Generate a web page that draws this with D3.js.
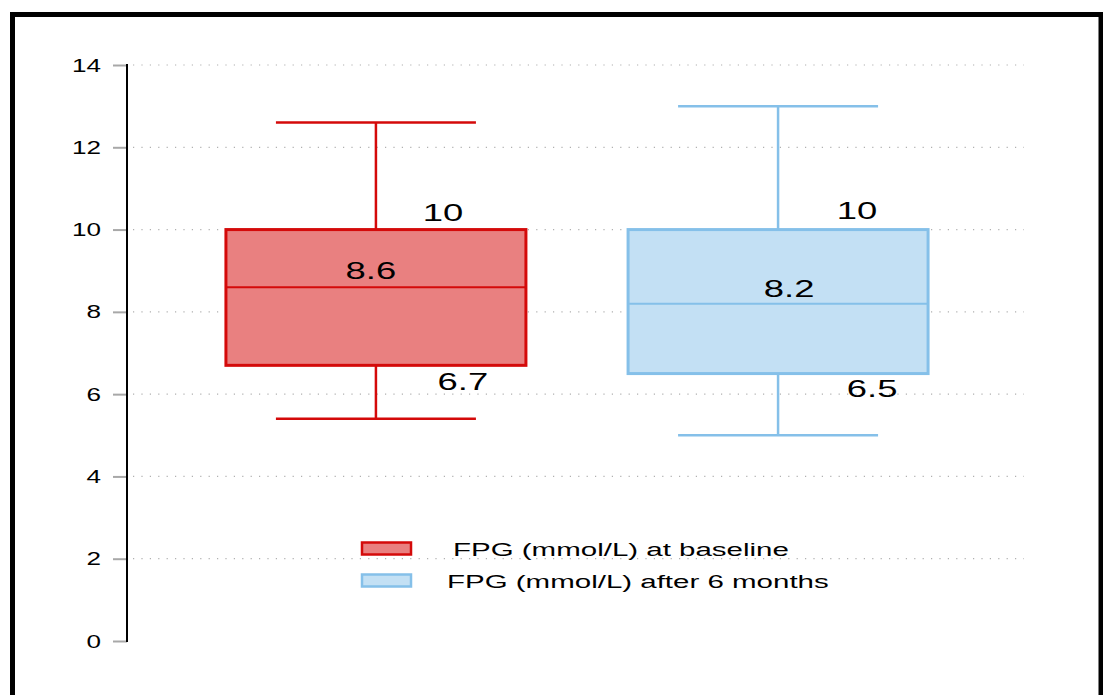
<!DOCTYPE html>
<html>
<head>
<meta charset="utf-8">
<script src="https://cdn.jsdelivr.net/npm/d3@7"></script>
<style>
  html, body { margin: 0; padding: 0; background: #fff; }
  svg { display: block; font-family: "Liberation Sans", Arial, sans-serif; }
</style>
</head>
<body>
<svg id="chart" width="1103" height="695"></svg>
<script>
// Box plot summaries for fasting plasma glucose
const groups = ["FPG (mmol/L) at baseline", "FPG (mmol/L) after 6 months"];
const whiskerLow = [5.4, 5.0];
const q1 = [6.7, 6.5];
const median = [8.6, 8.2];
const q3 = [10, 10];
const whiskerHigh = [12.6, 13.0];
const yTicks = [0, 2, 4, 6, 8, 10, 12, 14];

const strokeColors = ["#d40a0a", "#85c0e9"];
const fillColors = ["#e98080", "#c3e0f4"];

const svg = d3.select("#chart");

// outer frame
svg.append("path")
  .attr("d", "M12.5,700 V14.5 H1101 V700")
  .attr("fill", "none").attr("stroke", "#000").attr("stroke-width", 5);

const y = d3.scaleLinear().domain([0, 14]).range([641, 65]);
const x = d3.scaleBand().domain(groups).range([127, 1027]).paddingInner(0.254).paddingOuter(0.246);

// text in this figure is drawn horizontally widened
function wideText(g, txt, tx, ty, size, anchor, stretch) {
  return g.append("text").text(txt)
    .attr("transform", `translate(${tx},${ty}) scale(${stretch},1)`)
    .attr("text-anchor", anchor).attr("font-size", size).attr("fill", "#000");
}

// dotted gridlines
svg.append("g").selectAll("line").data(yTicks.filter(d => d > 0)).join("line")
  .attr("x1", 133).attr("x2", 1024)
  .attr("y1", d => y(d)).attr("y2", d => y(d))
  .attr("stroke", "#b0b0b0").attr("stroke-width", 1.2)
  .attr("stroke-dasharray", "1.2,7.2");

// y axis: tick marks from d3, labels widened
const axis = d3.axisLeft(y).tickValues(yTicks).tickSize(14).tickFormat("");
const ag = svg.append("g").attr("transform", "translate(127,0)").call(axis);
ag.select(".domain").remove();
ag.selectAll(".tick line").attr("stroke", "#a8a8a8").attr("stroke-width", 2);
const tl = svg.append("g");
yTicks.forEach(t => {
  wideText(tl, d3.format("d")(t), 101, y(t) + 6.5, 18, "end", 1.45);
});
svg.append("line").attr("x1", 127).attr("x2", 127).attr("y1", y(14) - 1).attr("y2", y(0) + 1)
  .attr("stroke", "#000").attr("stroke-width", 2);

// boxes
const idx = d3.range(groups.length);
const bw = x.bandwidth();
const labelOffsets = [
  { q3: [67, -9], med: [-5, -8], q1: [87, 25] },
  { q3: [79, -11], med: [11, -7], q1: [94, 23] }
];

svg.append("g").selectAll("g").data(idx).join("g").each(function(i) {
  const g = d3.select(this);
  const x0 = x(groups[i]);
  const cx = x0 + bw / 2;
  const capHalf = bw / 3;
  const sc = strokeColors[i];
  // whiskers
  g.append("line").attr("x1", cx).attr("x2", cx).attr("y1", y(whiskerHigh[i])).attr("y2", y(q3[i]))
    .attr("stroke", sc).attr("stroke-width", 2.5);
  g.append("line").attr("x1", cx).attr("x2", cx).attr("y1", y(q1[i])).attr("y2", y(whiskerLow[i]))
    .attr("stroke", sc).attr("stroke-width", 2.5);
  g.append("line").attr("x1", cx - capHalf).attr("x2", cx + capHalf)
    .attr("y1", y(whiskerHigh[i])).attr("y2", y(whiskerHigh[i]))
    .attr("stroke", sc).attr("stroke-width", 2.5);
  g.append("line").attr("x1", cx - capHalf).attr("x2", cx + capHalf)
    .attr("y1", y(whiskerLow[i])).attr("y2", y(whiskerLow[i]))
    .attr("stroke", sc).attr("stroke-width", 2.5);
  // box
  g.append("rect").attr("x", x0).attr("width", bw)
    .attr("y", y(q3[i])).attr("height", y(q1[i]) - y(q3[i]))
    .attr("fill", fillColors[i]).attr("stroke", sc).attr("stroke-width", 3);
  // median
  g.append("line").attr("x1", x0).attr("x2", x0 + bw)
    .attr("y1", y(median[i])).attr("y2", y(median[i]))
    .attr("stroke", sc).attr("stroke-width", 2);
  // value labels
  const o = labelOffsets[i];
  wideText(g, q3[i], cx + o.q3[0], y(q3[i]) + o.q3[1], 23.5, "middle", 1.55);
  wideText(g, median[i], cx + o.med[0], y(median[i]) + o.med[1], 23.5, "middle", 1.55);
  wideText(g, q1[i], cx + o.q1[0], y(q1[i]) + o.q1[1], 23.5, "middle", 1.55);
});

// legend
const lg = svg.append("g");
const legendY = [548.5, 580.5];
const legendTextX = [453, 447];
idx.forEach(i => {
  lg.append("rect").attr("x", 362).attr("y", legendY[i] - 6).attr("width", 49).attr("height", 12)
    .attr("fill", fillColors[i]).attr("stroke", strokeColors[i]).attr("stroke-width", 2.5);
  wideText(lg, groups[i], legendTextX[i], legendY[i] + 7, 18.2, "start", 1.62);
});
</script>
</body>
</html>
